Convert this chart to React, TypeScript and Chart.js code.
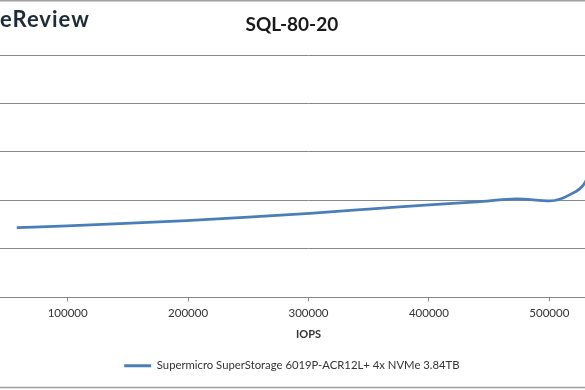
import React, { useEffect, useRef } from 'react';
import { Chart, registerables } from 'chart.js';

Chart.register(...registerables);

const chartTitle = 'SQL-80-20';
const xAxisTitle = 'IOPS';
const seriesLabel = 'Supermicro SuperStorage 6019P-ACR12L+ 4x NVMe 3.84TB';
const logoText = 'eReview';

const iops = [57700, 99400, 143400, 198800, 250000, 301000, 350000, 400100, 440000, 472900, 500600, 517200, 529700, 538000];
const latency = [1.44, 1.475, 1.52, 1.585, 1.655, 1.735, 1.82, 1.91, 1.97, 2.03, 1.99, 2.12, 2.37, 2.9];

const xMin = 0;
const xMax = 600000;
const xStep = 100000;
const yMin = 0;
const yMax = 5;
const yStep = 1;

const OFFSET = 86; // canvas is shifted left by this many px
const CANVAS_W = 766;
const CANVAS_H = 390;
const LINE_COLOR = '#4A7EBB';
const GRID_COLOR = '#888888';

const decor = {
  id: 'decor',
  beforeDraw(chart: any) {
    const ctx = chart.ctx;
    ctx.save();
    ctx.fillStyle = '#ffffff';
    ctx.fillRect(0, 0, chart.width, chart.height);
    ctx.restore();
  },
  afterDraw(chart: any) {
    const ctx = chart.ctx;
    ctx.save();
    ctx.strokeStyle = '#a0a0a0';
    ctx.lineWidth = 1.5;
    ctx.beginPath();
    ctx.moveTo(0, 0.75);
    ctx.lineTo(chart.width, 0.75);
    ctx.stroke();
    ctx.beginPath();
    ctx.moveTo(0, 387.5);
    ctx.lineTo(chart.width, 387.5);
    ctx.stroke();
    ctx.fillStyle = '#1e2c3a';
    ctx.font = 'bold 22px Lato';
    (ctx as any).letterSpacing = '1px';
    ctx.textBaseline = 'alphabetic';
    ctx.textAlign = 'left';
    ctx.fillText(logoText, OFFSET + 0, 27);
    ctx.restore();
  },
};

export default function App() {
  const ref = useRef<HTMLCanvasElement | null>(null);

  useEffect(() => {
    if (!ref.current) return;
    const points = iops.map((x, i) => ({ x, y: latency[i] }));
    const chart = new Chart(ref.current, {
      type: 'line',
      data: {
        datasets: [
          {
            label: seriesLabel,
            data: points,
            borderColor: LINE_COLOR,
            backgroundColor: LINE_COLOR,
            borderWidth: 2.75,
            pointRadius: 0,
            cubicInterpolationMode: 'monotone',
            fill: false,
          },
        ],
      },
      options: {
        animation: false,
        responsive: false,
        layout: { padding: { left: 0, right: 10.3, top: 0, bottom: 8.5 } },
        plugins: {
          title: {
            display: true,
            text: chartTitle,
            color: '#1a1a1a',
            font: { family: 'Lato', size: 19, weight: 'bold' },
            padding: { top: 13.3, bottom: 18.9 },
          },
          legend: {
            position: 'bottom',
            labels: {
              boxWidth: 27,
              boxHeight: 3,
              padding: 15.2,
              color: '#333333',
              font: { family: 'Lato', size: 11.3 },
              generateLabels: (c: any) =>
                Chart.defaults.plugins.legend.labels.generateLabels(c).map((l: any) => ({
                  ...l,
                  fillStyle: LINE_COLOR,
                  strokeStyle: LINE_COLOR,
                  lineWidth: 0,
                })),
            },
          },
          tooltip: { enabled: false },
        },
        scales: {
          x: {
            type: 'linear',
            min: xMin,
            max: xMax,
            ticks: {
              stepSize: xStep,
              padding: 5,
              color: '#333333',
              font: { family: 'Lato', size: 11.5 },
              maxRotation: 0,
              callback: (v: any) => (v === xMin || v === xMax ? '' : String(v)),
            },
            grid: { drawOnChartArea: false, drawTicks: true, tickLength: 4, color: GRID_COLOR },
            border: { display: true, color: GRID_COLOR },
            title: {
              display: true,
              text: xAxisTitle,
              color: '#333333',
              font: { family: 'Lato', size: 11, weight: 'bold' },
              padding: { top: 2.6, bottom: 4 },
            },
          },
          y: {
            type: 'linear',
            min: yMin,
            max: yMax,
            ticks: { stepSize: yStep, display: false },
            grid: { color: GRID_COLOR, drawTicks: false },
            border: { display: false },
            afterFit: (s: any) => {
              s.width = 33.3;
            },
          },
        },
      },
      plugins: [decor],
    });
    return () => chart.destroy();
  }, []);

  return (
    <div style={{ position: 'fixed', left: 0, top: 0, width: 585, height: 390, overflow: 'hidden', background: '#fff' }}>
      <div style={{ position: 'absolute', left: -OFFSET, top: 0, width: CANVAS_W, height: CANVAS_H }}>
        <canvas ref={ref} width={CANVAS_W} height={CANVAS_H} style={{ display: 'block' }} />
      </div>
    </div>
  );
}
